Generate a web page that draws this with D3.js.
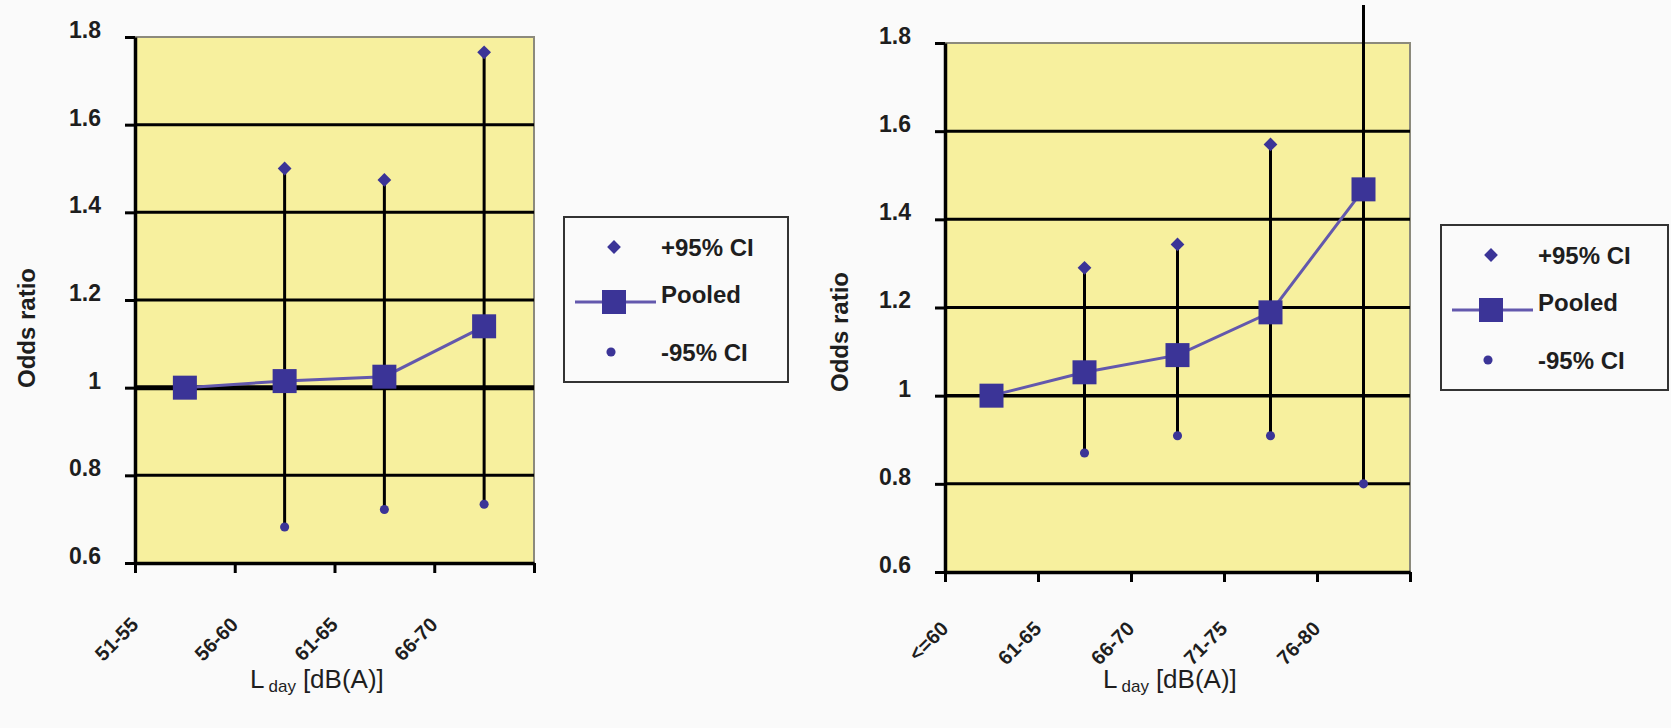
<!DOCTYPE html>
<html>
<head>
<meta charset="utf-8">
<script src="https://cdn.jsdelivr.net/npm/d3@7"></script>
<style>
  body { margin: 0; background: #fafafa; }
  text { font-family: "Liberation Sans", Arial, sans-serif; fill: #1e1e1e; }
</style>
</head>
<body>
<svg id="fig" width="1671" height="728"></svg>
<script>
// left panel data
var leftCats = ["51-55", "56-60", "61-65", "66-70"];
var leftPooled = [1.0, 1.015, 1.025, 1.14];
var leftUpper = [null, 1.50, 1.474, 1.765];
var leftLower = [null, 0.682, 0.722, 0.734];

// right panel data
var rightCats = ["<=60", "61-65", "66-70", "71-75", "76-80"];
var rightPooled = [1.0, 1.053, 1.092, 1.189, 1.468];
var rightUpper = [null, 1.29, 1.343, 1.57, 1.95];
var rightLower = [null, 0.87, 0.909, 0.909, 0.80];

var yTicks = [0.6, 0.8, 1.0, 1.2, 1.4, 1.6, 1.8];
var gridVals = [0.8, 1.0, 1.2, 1.4, 1.6];
var legendLabels = ["+95% CI", "Pooled", "-95% CI"];

var blue = "#3b3497";
var lineCol = "#6358ad";
var yellow = "#f7f09e";

var svg = d3.select("#fig");

// the scan is cut just below the top edge
svg.append("defs").append("clipPath").attr("id", "topclip")
    .append("rect").attr("x", 0).attr("y", 5).attr("width", 1671).attr("height", 723);

function panel(cats, pooled, upper, lower, o) {
  var n = cats.length;
  var x = d3.scaleBand().domain(cats).range([o.x0, o.x1]);
  var xi = d3.scaleLinear().domain([0, n]).range([o.x0, o.x1]);
  var y = d3.scaleLinear().domain([0.6, 1.8]).range([o.y1, o.y0]);
  var cx = function(i) { return x(cats[i]) + x.bandwidth() / 2; };
  var g = svg.append("g");

  // plot area
  g.append("rect")
      .attr("x", o.x0).attr("y", o.y0)
      .attr("width", o.x1 - o.x0).attr("height", o.y1 - o.y0)
      .attr("fill", yellow);
  g.append("path")
      .attr("d", "M" + o.x0 + "," + o.y0 + "H" + o.x1 + "V" + o.y1)
      .attr("fill", "none").attr("stroke", "#8c8a7c").attr("stroke-width", 2);

  // gridlines
  g.selectAll(".grid").data(gridVals).enter().append("line")
      .attr("x1", o.x0).attr("x2", o.x1)
      .attr("y1", function(d) { return y(d); })
      .attr("y2", function(d) { return y(d); })
      .attr("stroke", "#000")
      .attr("stroke-width", function(d) { return d === 1 ? o.oneWidth : 3; });

  // axes
  var ya = g.append("g").attr("transform", "translate(" + o.x0 + ",0)")
      .call(d3.axisLeft(y).tickValues(yTicks).tickSize(10).tickSizeOuter(0).tickPadding(24)
        .tickFormat(function(d) { return d === 1 ? "1" : d3.format(".1f")(d); }));
  ya.select(".domain").attr("stroke", "#000").attr("stroke-width", 3.5);
  ya.selectAll(".tick line").attr("stroke", "#000").attr("stroke-width", 3);
  ya.selectAll(".tick text")
      .attr("font-size", 23).attr("font-weight", "bold").attr("dy", "0.02em").attr("fill", "#2a2a2a");

  var xa = g.append("g").attr("transform", "translate(0," + o.y1 + ")")
      .call(d3.axisBottom(xi).tickValues(d3.range(n + 1)).tickSize(10).tickSizeOuter(0)
        .tickFormat(function(i) { return i < n ? cats[i] : ""; }));
  xa.select(".domain").attr("stroke", "#000").attr("stroke-width", 3.5);
  xa.selectAll(".tick line").attr("stroke", "#000").attr("stroke-width", 3);
  xa.selectAll(".tick text")
      .attr("x", 0).attr("y", 0).attr("dy", 0)
      .attr("text-anchor", "end")
      .attr("transform", "translate(4," + o.labelDy + ") rotate(-45)")
      .attr("font-size", 20).attr("font-weight", "bold").attr("fill", "#2a2a2a");

  // error bars
  var idx = d3.range(n).filter(function(i) { return upper[i] != null; });
  g.selectAll(".ci").data(idx).enter().append("line")
      .attr("clip-path", "url(#topclip)")
      .attr("x1", cx).attr("x2", cx)
      .attr("y1", function(i) { return y(upper[i]); })
      .attr("y2", function(i) { return y(lower[i]); })
      .attr("stroke", "#000").attr("stroke-width", 3);

  // pooled line + squares
  g.append("path")
      .datum(d3.range(n))
      .attr("fill", "none").attr("stroke", lineCol).attr("stroke-width", 3)
      .attr("d", d3.line().x(cx).y(function(i) { return y(pooled[i]); }));
  g.selectAll(".sq").data(d3.range(n)).enter().append("rect")
      .attr("x", function(i) { return cx(i) - 12; })
      .attr("y", function(i) { return y(pooled[i]) - 12; })
      .attr("width", 24).attr("height", 24)
      .attr("fill", blue);

  // CI markers
  g.selectAll(".up").data(idx).enter().append("path")
      .attr("d", d3.symbol(d3.symbolSquare, 95))
      .attr("transform", function(i) { return "translate(" + cx(i) + "," + y(upper[i]) + ") rotate(45)"; })
      .attr("fill", blue);
  g.selectAll(".lo").data(idx).enter().append("path")
      .attr("d", d3.symbol(d3.symbolCircle, 65))
      .attr("transform", function(i) { return "translate(" + cx(i) + "," + y(lower[i]) + ")"; })
      .attr("fill", blue);

  // y title
  g.append("text")
      .attr("transform", "translate(" + o.yTitleX + "," + o.yTitleY + ") rotate(-90)")
      .attr("text-anchor", "middle")
      .attr("font-size", 24).attr("font-weight", "bold")
      .text("Odds ratio");

  // x title
  var t = g.append("text").attr("x", o.xTitleX).attr("y", 688).attr("font-size", 26);
  t.append("tspan").text("L");
  t.append("tspan").attr("font-size", 17).attr("dx", 4).attr("dy", 4).text("day");
  t.append("tspan").attr("dx", 7).attr("dy", -4).text("[dB(A)]");

  // legend
  var lg = g.append("g").attr("transform", "translate(" + o.lx + "," + o.ly + ")");
  lg.append("rect").attr("width", o.lw).attr("height", 165)
      .attr("fill", "#fafafa").attr("stroke", "#333").attr("stroke-width", 2);
  var rows = [30, 85, 135];
  lg.append("path").attr("d", d3.symbol(d3.symbolSquare, 95))
      .attr("transform", "translate(50," + rows[0] + ") rotate(45)").attr("fill", blue);
  lg.append("line").attr("x1", 11).attr("x2", 92).attr("y1", rows[1]).attr("y2", rows[1])
      .attr("stroke", lineCol).attr("stroke-width", 3);
  lg.append("rect").attr("x", 38).attr("y", rows[1] - 12).attr("width", 24).attr("height", 24)
      .attr("fill", blue);
  lg.append("path").attr("d", d3.symbol(d3.symbolCircle, 65))
      .attr("transform", "translate(47," + rows[2] + ")").attr("fill", blue);
  lg.selectAll(".lt").data(legendLabels).enter().append("text")
      .attr("x", 97)
      .attr("y", function(d, i) { return rows[i] + (i === 1 ? 1 : 9); })
      .attr("font-size", 24).attr("font-weight", "bold")
      .text(function(d) { return d; });
}

panel(leftCats, leftPooled, leftUpper, leftLower, {
  x0: 135, x1: 534, y0: 37, y1: 563, oneWidth: 5, labelDy: 63,
  yTitleX: 35, yTitleY: 328, xTitleX: 250,
  lx: 564, ly: 217, lw: 224
});

panel(rightCats, rightPooled, rightUpper, rightLower, {
  x0: 945, x1: 1410, y0: 43, y1: 572, oneWidth: 3.5, labelDy: 58,
  yTitleX: 848, yTitleY: 332, xTitleX: 1103,
  lx: 1441, ly: 225, lw: 227
});
</script>
</body>
</html>
